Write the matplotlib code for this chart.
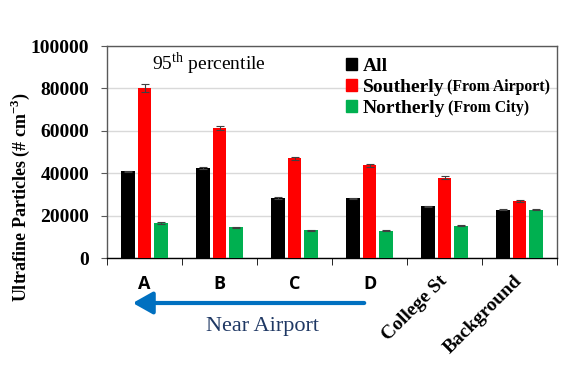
import numpy as np
import matplotlib
matplotlib.use("Agg")
import matplotlib.pyplot as plt
import matplotlib.transforms as mtransforms
from matplotlib.patches import Patch, FancyArrowPatch

plt.rcParams['mathtext.fontset'] = 'custom'
plt.rcParams['mathtext.rm'] = 'Liberation Serif'
plt.rcParams['mathtext.bf'] = 'Liberation Serif:bold'

# data
sites = ['A', 'B', 'C', 'D', 'College St', 'Background']
all_vals = [40900, 42600, 28300, 28100, 24400, 22900]
south_vals = [80300, 61300, 47000, 43700, 37900, 26900]
north_vals = [16500, 14500, 13200, 12900, 15300, 22900]
all_err = [400, 400, 300, 300, 300, 300]
south_err = [1800, 1000, 800, 700, 600, 500]
north_err = [300, 300, 250, 250, 250, 300]

c_all, c_south, c_north = '#000000', '#FF0000', '#00B050'

fig = plt.figure(figsize=(5.76, 3.84), dpi=100)
ax = fig.add_axes([0.186, 0.328, 0.781, 0.552])

x = np.arange(len(sites))
w = 0.18
off = 0.22
ekw = dict(ecolor='#404040', elinewidth=0.8, capsize=3, capthick=0.8)
ax.bar(x - off, all_vals, w, yerr=all_err, color=c_all, error_kw=ekw, zorder=3)
ax.bar(x, south_vals, w, yerr=south_err, color=c_south, error_kw=ekw, zorder=3)
ax.bar(x + off, north_vals, w, yerr=north_err, color=c_north, error_kw=ekw, zorder=3)

ax.set_xlim(-0.5, len(sites) - 0.5)
ax.set_ylim(0, 100000)
ax.set_yticks(np.arange(0, 100001, 20000))
ax.yaxis.grid(True, color='#D9D9D9', lw=1, zorder=0)
for s in ax.spines.values():
    s.set_color('#595959')
    s.set_linewidth(1.0)
ax.spines['bottom'].set_color('#000000')

for lab in ax.get_yticklabels():
    lab.set_fontfamily('Liberation Serif')
    lab.set_fontweight('bold')
    lab.set_fontsize(14)
ax.tick_params(axis='y', direction='out', length=4, color='#595959', pad=9)

# x ticks: labels at centers, marks at group boundaries
ax.set_xticks(x)
ax.set_xticklabels(sites)
ax.set_xticks(np.arange(-0.5, len(sites)), minor=True)
ax.tick_params(axis='x', which='major', length=0, pad=12)
ax.tick_params(axis='x', which='minor', direction='out', length=5, color='#000000')
shift = mtransforms.ScaledTranslation(6 / 100, 2 / 100, fig.dpi_scale_trans)
for i, lab in enumerate(ax.get_xticklabels()):
    if i < 4:
        lab.set_fontfamily('Open Sans')
        lab.set_fontweight('bold')
        lab.set_fontsize(13)
    else:
        lab.set_fontfamily('Liberation Serif')
        lab.set_fontweight('bold')
        lab.set_fontsize(14)
        lab.set_rotation(45)
        lab.set_ha('right')
        lab.set_va('top')
        lab.set_transform(lab.get_transform() + shift)

fig.text(0.036, 1 - 197 / 384, r'Ultrafine Particles (# cm$^{\mathbf{-3}}$)', rotation=90,
         ha='center', va='center', fontfamily='Liberation Serif', fontweight='bold',
         fontsize=13)

ax.text(0.1, 0.885, r'95$^{\rm th}$ percentile', transform=ax.transAxes,
        fontfamily='Liberation Serif', fontsize=14, va='baseline')

# legend
handles = [Patch(color=c_all), Patch(color=c_south), Patch(color=c_north)]
leg = ax.legend(handles, ['All', 'Southerly', 'Northerly'], loc='upper left',
                bbox_to_anchor=(0.505, 1.0), frameon=False,
                handlelength=0.55, handleheight=0.55, handletextpad=0.3,
                labelspacing=0.2, borderaxespad=0.2,
                prop={'family': 'Liberation Serif', 'weight': 'bold', 'size': 14})

fig.canvas.draw()
extras = ['', '(From Airport)', '(From City)']
inv = fig.transFigure.inverted()
for t, e in zip(leg.get_texts(), extras):
    if e:
        bb = t.get_window_extent()
        x0, y0 = inv.transform((bb.x1 + 3, bb.y0 + 1))
        fig.text(x0, y0, e, ha='left', va='bottom',
                 fontfamily='Liberation Serif', fontweight='bold', fontsize=11.3)

# arrow and "Near Airport"
fig.patches.append(FancyArrowPatch(
    (367 / 576, 1 - 303 / 384), (130 / 576, 1 - 303 / 384),
    transform=fig.transFigure, arrowstyle='-|>,head_length=8,head_width=4.5',
    color='#0070C0', lw=3, mutation_scale=1.5))
fig.text(263 / 576, 1 - 327 / 384, 'Near Airport', ha='center', va='center',
         fontfamily='Liberation Serif', fontsize=16, color='#1F3864')

fig.savefig('out.png', dpi=100)
